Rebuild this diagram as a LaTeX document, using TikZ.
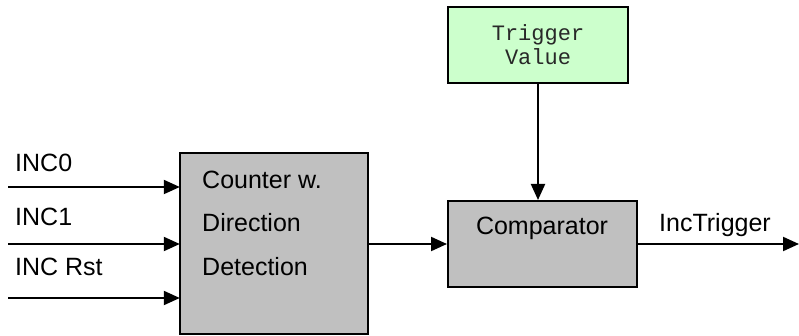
\documentclass[tikz,border=0pt]{standalone}
\usepackage{fontspec}
\setmainfont{Liberation Sans}
\newfontfamily\monofont{Liberation Mono}
\usetikzlibrary{arrows.meta}
\begin{document}
\begin{tikzpicture}[x=1pt,y=-1pt,
  blockbox/.style={draw=black,line width=2pt,fill=gray!50!white!50,fill={rgb,255:red,192;green,192;blue,192}},
  valbox/.style={draw=black,line width=2pt,fill={rgb,255:red,204;green,255;blue,204}},
  sig/.style={line width=2pt,-{Triangle[length=16pt,width=14pt]}},
  lbl/.style={font=\fontsize{25}{30}\selectfont,inner sep=0pt,anchor=west},
]
\useasboundingbox (0,0) rectangle (799,336);
% boxes
\path[blockbox] (180,153) rectangle (368,334);
\coordinate (cntNW) at (180,153);
\node[draw=none,minimum width=188pt,minimum height=181pt,inner sep=0pt] (cnt) at (274,243.5) {};
\node[lbl] (c1) at (202,180) {Counter w.};
\node[lbl] (c2) at (202,223) {Direction};
\node[lbl] (c3) at (202,267) {Detection};

\node[valbox,minimum width=180pt,minimum height=76pt,inner sep=0pt] (trig) at (538,45) {};
\node[font=\monofont\fontsize{22}{24}\selectfont,text={rgb,255:red,40;green,40;blue,40},align=center,inner sep=0pt] (tv) at (538,45) {Trigger\\Value};

\node[blockbox,minimum width=189pt,minimum height=86pt,inner sep=0pt] (cmp) at (542.5,244) {};
\node[lbl,anchor=center] (cmpl) at (542,228) {Comparator};

% inputs
\coordinate (i0) at (8,187);
\coordinate (i1) at (8,244);
\coordinate (i2) at (8,298);
\node[lbl] (l0) at (15,163) {INC0};
\node[lbl] (l1) at (15,217) {INC1};
\node[lbl] (l2) at (15,267) {INC Rst};
\draw[sig] (i0) -- (i0 -| cnt.west);
\draw[sig] (i1) -- (i1 -| cnt.west);
\draw[sig] (i2) -- (i2 -| cnt.west);

\draw[sig] (cnt.east |- cmp.west) -- (cmp.west);
\draw[sig] (trig.south) -- (trig.south |- cmp.north);
\coordinate (out) at (799,244);
\draw[sig] (cmp.east) -- (out);
\node[lbl,anchor=center] (ot) at (715,225) {IncTrigger};
\end{tikzpicture}
\end{document}
